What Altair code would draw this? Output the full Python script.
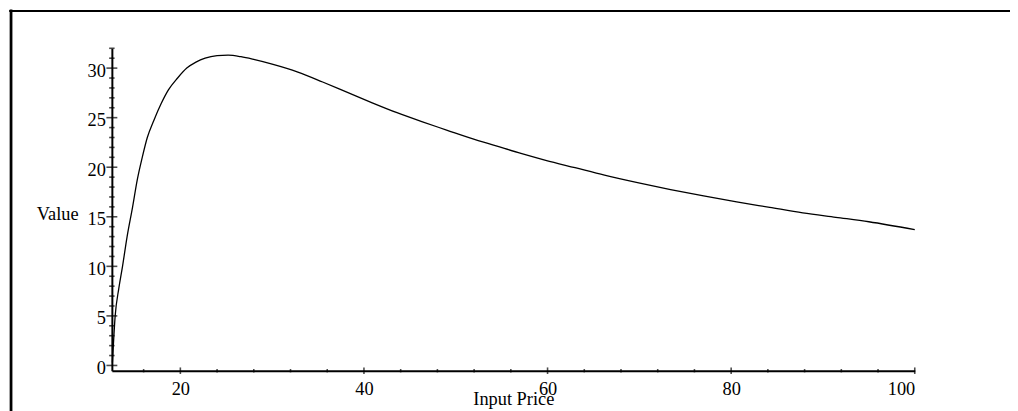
import altair as alt
import pandas as pd

# Curve values
price = [12.6, 12.9, 13.3, 13.7, 14.2, 14.8, 15.3, 15.85, 16.4, 17.1, 17.9, 18.7,
         19.7, 20.7, 21.7, 22.7, 24.0, 25.2, 26.6, 28.1, 30.0, 32.8, 35.5, 38.2,
         40.9, 43.6, 46.3, 49.0, 51.7, 54.4, 57.1, 59.8, 63.0, 66.2, 69.8, 73.4,
         77.0, 80.6, 84.2, 87.8, 91.4, 95.0, 100.0]
value = [0.3, 5.0, 7.8, 10.0, 13.0, 16.0, 18.7, 21.0, 23.0, 24.7, 26.4, 27.8,
         29.0, 30.0, 30.6, 31.0, 31.25, 31.3, 31.15, 30.85, 30.4, 29.6, 28.6, 27.55,
         26.5, 25.5, 24.6, 23.75, 22.9, 22.15, 21.4, 20.7, 19.95, 19.2, 18.45, 17.75,
         17.1, 16.5, 15.95, 15.4, 14.95, 14.5, 13.7]

# Axis ticks
x_major = [20, 40, 60, 80, 100]
x_minor = [16, 24, 28, 32, 36, 44, 48, 52, 56, 64, 68, 72, 76, 84, 88, 92, 96]
y_major = [0, 5, 10, 15, 20, 25, 30]
y_minor = [1, 2, 3, 4, 6, 7, 8, 9, 11, 12, 13, 14, 16, 17, 18, 19,
           21, 22, 23, 24, 26, 27, 28, 29, 31, 32]

x_domain = [12.54, 100]
y_domain = [-0.53, 32]

W, H = 809.3, 325
PL, PT = 104.7, 39
FONT = "Liberation Serif"
FS = 18.5

curve = pd.DataFrame({"price": price, "value": value})

xs = alt.Scale(domain=x_domain, nice=False, zero=False)
ys = alt.Scale(domain=y_domain, nice=False, zero=False)

line = alt.Chart(curve).mark_line(color="black", strokeWidth=1.3, interpolate="monotone").encode(
    x=alt.X("price:Q", scale=xs, axis=alt.Axis(
        title="Input Price", values=x_major, ticks=False, tickSize=0, grid=False,
        domain=True, domainColor="black", domainWidth=2,
        labelFont=FONT, labelFontSize=FS, labelColor="black", labelPadding=9,
        titleFont=FONT, titleFontSize=FS, titleFontWeight="normal", titleColor="black",
        titleY=34, titleBaseline="alphabetic")),
    y=alt.Y("value:Q", scale=ys, axis=alt.Axis(
        title="Value", values=y_major, ticks=False, tickSize=0, grid=False,
        domain=True, domainColor="black", domainWidth=2,
        labelFont=FONT, labelFontSize=FS, labelColor="black", labelPadding=6.5,
        labelOffset=2,
        titleFont=FONT, titleFontSize=FS, titleFontWeight="normal", titleColor="black",
        titleAngle=0, titleAlign="right", titleBaseline="alphabetic",
        titleX=-34, titleY=173)),
)

def yticks(vals, size):
    return alt.Chart(pd.DataFrame({"v": vals})).mark_tick(
        orient="horizontal", color="black", thickness=1.6, size=size).encode(
        y=alt.Y("v:Q", scale=ys), x=alt.value(0))

def xticks(vals, size):
    return alt.Chart(pd.DataFrame({"v": vals})).mark_tick(
        orient="vertical", color="black", thickness=1.6, size=size).encode(
        x=alt.X("v:Q", scale=xs), y=alt.value(H))

frame_left = alt.Chart(pd.DataFrame({"a": [0]})).mark_rule(color="black", strokeWidth=2.5).encode(
    x=alt.value(-101.5), y=alt.value(-PT), y2=alt.value(H + 60))
frame_left_g = alt.Chart(pd.DataFrame({"a": [0]})).mark_rule(color="#b0b0b0", strokeWidth=1).encode(
    x=alt.value(-103.2), y=alt.value(-PT), y2=alt.value(H + 60))
frame_top = alt.Chart(pd.DataFrame({"a": [0]})).mark_rule(color="black", strokeWidth=2).encode(
    x=alt.value(-103.5), x2=alt.value(W + 120), y=alt.value(-PT + 1.5))

chart = alt.layer(
    frame_left_g, frame_left, frame_top,
    line,
    yticks(y_major, 11), yticks(y_minor, 5.5),
    xticks(x_major, 6.6), xticks(x_minor, 3.4),
).properties(
    width=W, height=H,
    autosize=alt.AutoSizeParams(type="none"),
    padding={"left": PL, "top": PT, "right": 1010 - PL - W, "bottom": 403 - PT - H},
).configure(background="white").configure_view(strokeWidth=0)

chart.save("out.html", embed_options={"renderer": "svg", "actions": False})
